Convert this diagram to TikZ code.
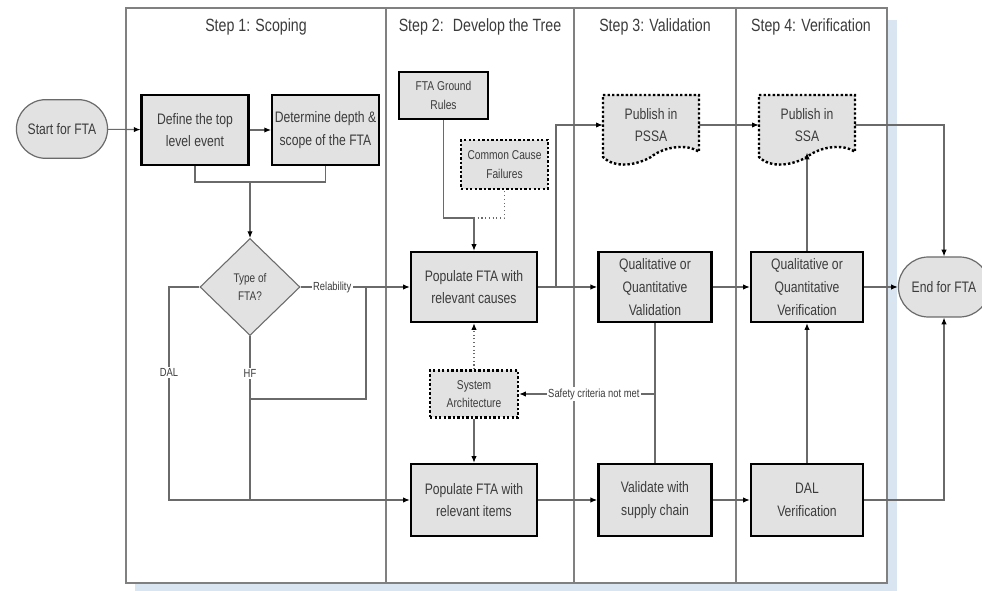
\documentclass[tikz,border=0pt]{standalone}
\usepackage{fontspec}
\setmainfont{Liberation Sans}[FakeStretch=0.8]
\usepackage{tikz}
\usetikzlibrary{positioning,arrows.meta,shapes.geometric,shapes.misc}
\definecolor{boxgray}{HTML}{E2E2E2}
\definecolor{linegray}{HTML}{6A6A6A}
\definecolor{txtgray}{HTML}{3C3C3C}
\definecolor{shadowblue}{HTML}{DAE5F2}
\newcommand\docshape[2]{\filldraw[docb, shift={(#1,#2)}] (-48,-30) -- (48,-30) -- (48,27)
  .. controls (36,18) and (12,22) .. (0,32) .. controls (-14,40) and (-36,44) .. (-48,32) -- cycle;}

\begin{document}
\begin{tikzpicture}[x=0.75pt, y=-0.75pt, font=\fontsize{11.4}{17}\selectfont, text=txtgray,
  line/.style={draw=linegray, line width=0.8pt},
  arr/.style={line, -{Latex[length=5pt, width=4pt, black]}},
  proc/.style={draw=black, line width=1.8pt, fill=boxgray, align=center, minimum height=52.5pt, inner sep=1pt},
  docb/.style={draw=black, line width=1.8pt, dash pattern=on 1.8pt off 1.6pt, fill=boxgray},
  aux/.style={docb, align=center, font=\fontsize{9.6}{14}\selectfont, minimum width=66pt, minimum height=35.25pt, inner sep=1pt},
  term/.style={rounded rectangle, draw=linegray, line width=0.9pt, fill=boxgray, minimum width=75pt, minimum height=44pt},
  lbl/.style={fill=white, inner sep=1pt, font=\fontsize{8.8}{10}\selectfont}]
\useasboundingbox (0,0) rectangle (982,591);
\fill[shadowblue] (135,20) rectangle (897,591);
\draw[line, draw=gray, fill=white] (126,8) rectangle (887,583);
\foreach \xx in {386,574,736} \draw[line, draw=gray] (\xx,8) -- (\xx,583);
\foreach \xx/\tt [count=\i] in {256/{Step 1: Scoping}, 480/{Step 2: \ Develop the Tree}, 655/{Step 3: Validation}, 811/{Step 4: Verification}}
  \node[font=\fontsize{13.3}{16}\selectfont] (h\i) at (\xx,27) {\tt};

\node[term] (start) at (62,129) {Start for FTA};
\node[proc, minimum width=80pt] (def) at (195,130) {Define the top\\level event};
\node[proc, minimum width=80pt] (det) at (325.5,130) {Determine depth \&\\scope of the FTA};
\node[diamond, draw=linegray, line width=0.8pt, fill=boxgray, minimum width=75pt, minimum height=72.75pt, inner sep=0pt,
  align=center, font=\fontsize{9.4}{14}\selectfont] (typ) at (250,287) {Type of\\FTA?};
\node[proc, minimum width=94.5pt] (pop) at (474,287) {Populate FTA with\\relevant causes};
\node[proc, minimum width=94.5pt, minimum height=54pt] (items) at (474,500) {Populate FTA with\\relevant items};
\node[proc, minimum width=66.75pt, minimum height=35.25pt, font=\fontsize{9.6}{14}\selectfont] (rul) at (443.5,95.5) {FTA Ground\\Rules};
\node[aux, minimum width=65.25pt, minimum height=36.75pt] (ccf) at (504.5,164.5) {Common Cause\\Failures};
\node[aux] (sys) at (474,394) {System\\Architecture};
\node[proc, minimum width=85pt] (qval) at (655,287) {Qualitative or\\Quantitative\\Validation};
\node[proc, minimum width=85pt, minimum height=54pt] (vsc) at (655,500) {Validate with\\supply chain};
\node[proc, minimum width=84pt] (qver) at (807,287) {Qualitative or\\Quantitative\\Verification};
\node[proc, minimum width=84pt, minimum height=54pt] (dalv) at (807,500) {DAL\\Verification};
\docshape{651}{125}
\docshape{807}{125}
\node[align=center, minimum width=72pt, minimum height=45pt, inner sep=0pt] (pssa) at (651,125) {Publish in\\PSSA};
\node[align=center, minimum width=72pt, minimum height=45pt, inner sep=0pt] (ssa) at (807,125) {Publish in\\SSA};
\node[term, minimum height=45pt] (endn) at (944,287) {End for FTA};

\coordinate (jn) at (250,182);
\coordinate (rb) at (366,287);
\coordinate (hf) at (250,399);
\coordinate (dal) at (169,500);
\coordinate (cj) at (474,218);
\coordinate (pj) at (556,287);
\coordinate (sc) at (655,394);

\draw[arr] (start) -- (def);
\draw[arr] (def) -- (det);
\draw[line] (def.south) |- (jn) -| (det.south);
\draw[arr] (jn) -- (typ);
\draw[arr] (typ) -- node[lbl, pos=0.29] (rel) {Relability} (pop);
\draw[line] (rb) |- (hf);
\draw[line] (typ) -- node[lbl, pos=0.23] (hfl) {HF} (typ.south |- items.west);
\draw[arr] (typ.west) -| node[lbl, pos=0.7] (dall) {DAL} (dal) -- (items.west);
\draw[line] (rul) |- (cj);
\draw[line, dotted] (cj) -| (ccf);
\draw[arr] (cj) -- (pop);
\draw[arr] (pop) -- (qval);
\draw[arr] (pj) |- (pssa);
\draw[arr] (pssa) -- (ssa);
\draw[arr] (ssa) -| (endn);
\draw[arr] (qval) -- (qver);
\draw[arr] (qver) -- (endn);
\draw[arr, shorten >=-2pt] (qver) -- (ssa);
\draw[arr] (dalv) -- (qver);
\draw[arr] (dalv) -| (endn);
\draw[arr] (items) -- (vsc);
\draw[arr] (vsc) -- (dalv);
\draw[line] (qval) -- (vsc);
\draw[arr] (sc) -- node[lbl, pos=0.45] (scl) {Safety criteria not met} (sys);
\draw[arr, dotted] (sys) -- (pop);
\draw[arr] (sys) -- (items);
\end{tikzpicture}
\end{document}
